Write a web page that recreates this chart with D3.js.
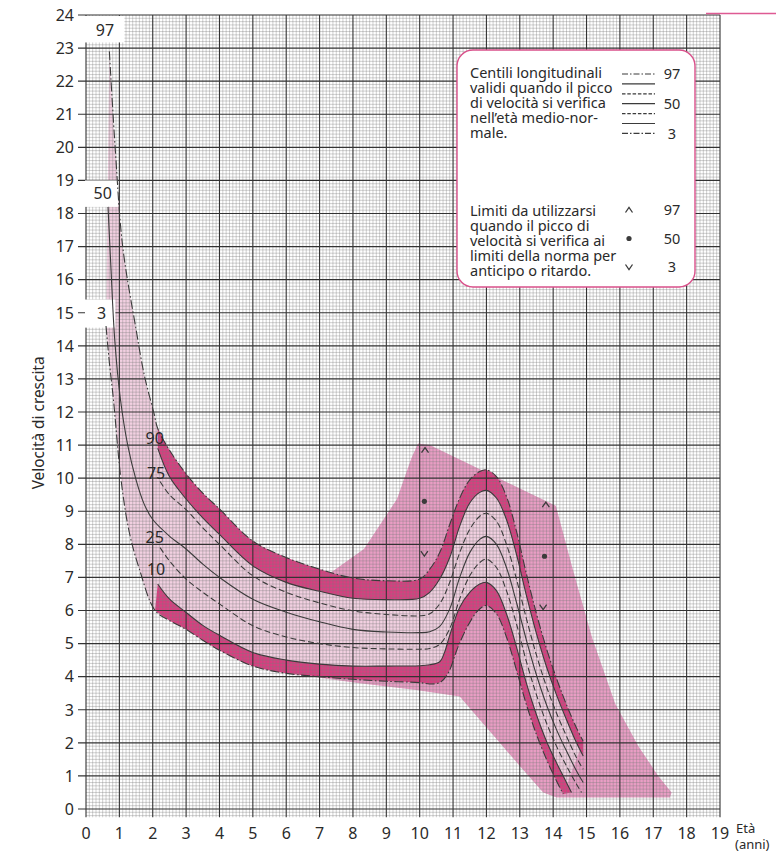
<!DOCTYPE html>
<html>
<head>
<meta charset="utf-8">
<script src="https://cdn.jsdelivr.net/npm/d3@7"></script>
<style>
  body { margin: 0; background: #fff; }
  svg { display: block; }
  text { font-family: "Noto Sans", "Open Sans", sans-serif; fill: #2a2a2a; }
</style>
</head>
<body>
<svg id="chart" width="776" height="852"></svg>
<script>
// ---- axis ticks ----
const ageTicks = d3.range(0, 20);          // 0 … 19 anni
const velocityTicks = d3.range(0, 25);     // 0 … 24 cm/anno

// ---- longitudinal centiles: [età, velocità] ----
const centile97 = [
  [0.70, 22.9], [0.88, 19.9], [1.10, 17.0], [1.50, 14.5], [1.75, 13.1], [2.04, 11.95],
  [2.15, 11.5], [2.5, 10.85], [3, 10.13], [3.5, 9.55], [4, 9.07], [5, 8.1], [6, 7.6],
  [7, 7.25], [8, 6.98], [9, 6.9], [10, 6.95], [10.3, 7.25], [10.6, 7.75], [10.9, 8.6],
  [11.2, 9.4], [11.5, 9.95], [11.8, 10.2], [12, 10.25], [12.3, 10.05], [12.6, 9.45],
  [12.9, 8.4], [13.2, 7.1], [13.5, 5.9], [13.8, 4.85], [14.1, 3.95], [14.4, 3.15],
  [14.7, 2.45], [14.9, 2.05]
];
const centile90 = [
  [2.15, 10.9], [2.5, 10.05], [3, 9.37], [3.5, 8.8], [4, 8.3], [5, 7.35], [6, 6.85],
  [7, 6.58], [8, 6.37], [9, 6.33], [10, 6.37], [10.3, 6.55], [10.6, 6.95], [10.9, 7.6],
  [11.2, 8.55], [11.5, 9.25], [11.8, 9.57], [12, 9.63], [12.3, 9.4], [12.6, 8.75],
  [12.9, 7.7], [13.2, 6.45], [13.5, 5.3], [13.8, 4.3], [14.1, 3.45], [14.4, 2.7],
  [14.7, 2.0], [14.9, 1.6]
];
const centile75 = [
  [2.22, 9.9], [2.5, 9.5], [3, 9.05], [3.5, 8.5], [4, 8.0], [5, 7.05], [6, 6.55],
  [7, 6.23], [8, 5.99], [9, 5.88], [10, 5.84], [10.3, 5.9], [10.6, 6.2], [10.9, 6.85],
  [11.2, 7.75], [11.5, 8.45], [11.8, 8.85], [12, 8.94], [12.3, 8.7], [12.6, 8.0],
  [12.9, 6.95], [13.2, 5.75], [13.5, 4.65], [13.8, 3.7], [14.1, 2.9], [14.4, 2.2],
  [14.7, 1.55], [14.9, 1.2]
];
const centile50 = [
  [0.66, 18.2], [0.75, 16.3], [0.86, 14.2], [1.03, 12.4], [1.25, 11.0], [1.5, 9.95],
  [1.75, 9.2], [2.0, 8.75], [2.5, 8.25], [3, 7.86], [3.5, 7.4], [4, 7.0], [5, 6.34],
  [6, 5.95], [7, 5.66], [8, 5.43], [9, 5.35], [10, 5.33], [10.3, 5.36], [10.6, 5.52],
  [10.9, 6.05], [11.2, 7.0], [11.5, 7.75], [11.8, 8.15], [12, 8.24], [12.3, 8.0],
  [12.6, 7.3], [12.9, 6.25], [13.2, 5.1], [13.5, 4.05], [13.8, 3.15], [14.1, 2.4],
  [14.4, 1.75], [14.7, 1.15], [14.9, 0.8]
];
const centile25 = [
  [2.22, 7.9], [2.5, 7.5], [3, 6.95], [3.5, 6.55], [4, 6.2], [5, 5.54], [6, 5.2],
  [7, 5.0], [8, 4.88], [9, 4.84], [10, 4.83], [10.3, 4.85], [10.6, 4.98], [10.9, 5.45],
  [11.2, 6.35], [11.5, 7.05], [11.8, 7.45], [12, 7.55], [12.3, 7.3], [12.6, 6.6],
  [12.9, 5.6], [13.2, 4.45], [13.5, 3.45], [13.8, 2.6], [14.1, 1.9], [14.4, 1.3],
  [14.7, 0.75], [14.85, 0.5]
];
const centile10 = [
  [2.15, 6.8], [2.5, 6.35], [3, 5.94], [3.5, 5.55], [4, 5.25], [5, 4.73], [6, 4.5],
  [7, 4.38], [8, 4.32], [9, 4.32], [10, 4.33], [10.3, 4.36], [10.6, 4.45], [10.75, 4.75],
  [10.9, 5.25], [11.2, 6.1], [11.5, 6.55], [11.8, 6.8], [12, 6.85], [12.3, 6.6],
  [12.6, 5.9], [12.9, 4.9], [13.2, 3.8], [13.5, 2.85], [13.8, 2.05], [14.1, 1.4],
  [14.35, 0.9], [14.55, 0.5]
];
const centile3 = [
  [0.60, 14.6], [0.70, 13.5], [0.82, 12.4], [1.05, 9.95], [1.3, 8.35], [1.6, 7.25],
  [2.07, 6.0], [2.5, 5.7], [3, 5.43], [3.5, 5.1], [4, 4.8], [5, 4.32], [6, 4.1],
  [7, 4.0], [8, 3.92], [9, 3.86], [10, 3.82], [10.3, 3.78], [10.6, 3.82], [10.85, 4.1],
  [11.15, 4.9], [11.45, 5.55], [11.75, 6.0], [12, 6.15], [12.3, 5.9], [12.6, 5.2],
  [12.9, 4.2], [13.2, 3.15], [13.5, 2.25], [13.8, 1.5], [14.05, 0.95], [14.3, 0.45]
];

// ---- range of the curves when the peak comes early or late ----
const peakLimitRegion = [
  [5.5, 4.2], [7, 3.97], [8.2, 3.8], [9.9, 3.6], [11.2, 3.4], [11.8, 2.7], [12.4, 2.0],
  [13.0, 1.3], [13.7, 0.5], [14.1, 0.35], [17.5, 0.35], [17.55, 0.5], [17.15, 1.0],
  [16.56, 1.89], [15.86, 3.18], [15.17, 5.17], [14.6, 7.2], [14.08, 9.17], [10.3, 11.0],
  [9.95, 11.05], [9.75, 10.6], [9.32, 9.37], [8.33, 7.86], [7.34, 7.15], [6.84, 6.95]
];
const earlyPeakLimits = [
  { centile: 97, age: 10.16, v: 10.85 },
  { centile: 50, age: 10.14, v: 9.3 },
  { centile: 3,  age: 10.14, v: 7.72 }
];
const latePeakLimits = [
  { centile: 97, age: 13.78, v: 9.2 },
  { centile: 50, age: 13.74, v: 7.64 },
  { centile: 3,  age: 13.7,  v: 6.1 }
];

// ---- centile names written on the chart ----
const infantLabels = [
  { text: "97", age: 0.57, v: 23.55 },
  { text: "50", age: 0.5,  v: 18.6 },
  { text: "3",  age: 0.47, v: 14.98 }
];
const childLabels = [
  { text: "90", age: 2.06, v: 11.2 },
  { text: "75", age: 2.1,  v: 10.15 },
  { text: "25", age: 2.06, v: 8.2 },
  { text: "10", age: 2.1,  v: 7.25 }
];

// ---- legend ----
const legendCentileText = ["Centili longitudinali", "validi quando il picco",
  "di velocità si verifica", "nell’età medio-nor-", "male."];
const legendLimitText = ["Limiti da utilizzarsi", "quando il picco di",
  "velocità si verifica ai", "limiti della norma per", "anticipo o ritardo."];
const legendLineStyles = ["dashdot", "solid", "dashed", "solid", "dashed", "solid", "dashdot"];
const legendLineLabels = ["97", "", "", "50", "", "", "3"];
const legendMarkers = [{ shape: "up", label: "97" }, { shape: "dot", label: "50" }, { shape: "down", label: "3" }];

// ---------------------------------------------------------------
const svg = d3.select("#chart");
const x = d3.scaleLinear().domain([0, 19]).range([86, 720]);
const y = d3.scaleLinear().domain([0, 24]).range([809, 15]);

const COL_LIGHT = "#f2d0e1";
const COL_MID = "#e99dc4";
const COL_DARK = "#d93e80";
const COL_LINE = "#3b3b3b";
const DASH = { solid: null, dashed: "6,3", dashdot: "9,2.5,1.6,2.5" };

const curve = d3.line().x(d => x(d[0])).y(d => y(d[1])).curve(d3.curveCatmullRom.alpha(0.5));
const straight = d3.line().x(d => x(d[0])).y(d => y(d[1]));

// area enclosed by an upper and a lower curve
function bandPath(upper, lower) {
  const a = curve(upper);
  const b = curve(lower.slice().reverse());
  return a + "L" + b.slice(1) + "Z";
}

// peak-timing region
svg.append("path").attr("d", straight(peakLimitRegion) + "Z").attr("fill", COL_MID);

// between 97th and 3rd
svg.append("path").attr("d", bandPath(centile97, centile3)).attr("fill", COL_LIGHT);

// dark bands 97–90 and 10–3
svg.append("path").attr("d", bandPath(centile97.filter(d => d[0] >= 2.15), centile90)).attr("fill", COL_DARK);
svg.append("path").attr("d", bandPath(centile10, centile3.filter(d => d[0] >= 2.07))).attr("fill", COL_DARK);

// ---- graph paper ----
const grid = svg.append("g");
const yBottom = y(-0.25), yTop = y(24);
d3.range(0, 191).filter(i => i % 10 !== 0).forEach(i => {
  const a = i / 10;
  grid.append("line").attr("x1", x(a)).attr("x2", x(a)).attr("y1", yBottom).attr("y2", yTop)
    .attr("stroke", "#7a7a7a").attr("stroke-width", 0.45).attr("stroke-opacity", 0.8);
});
d3.range(-2, 241).filter(i => i % 10 !== 0).forEach(i => {
  const v = i / 10;
  grid.append("line").attr("x1", x(0)).attr("x2", x(19)).attr("y1", y(v)).attr("y2", y(v))
    .attr("stroke", "#7a7a7a").attr("stroke-width", 0.45).attr("stroke-opacity", 0.8);
});
ageTicks.forEach(a => {
  grid.append("line").attr("x1", x(a)).attr("x2", x(a)).attr("y1", yBottom).attr("y2", yTop)
    .attr("stroke", "#333").attr("stroke-width", 1.1);
});
velocityTicks.forEach(v => {
  grid.append("line").attr("x1", x(0) - 8).attr("x2", x(19)).attr("y1", y(v)).attr("y2", y(v))
    .attr("stroke", "#333").attr("stroke-width", 1.1);
});

// white boxes behind the infant centile names
const boxes = [
  { a0: 0, a1: 1.15, v0: 23.17, v1: 23.97 },
  { a0: 0, a1: 0.96, v0: 18.2, v1: 19.0 },
  { a0: 0, a1: 0.88, v0: 14.55, v1: 15.4 }
];
svg.selectAll("rect.lbox").data(boxes).join("rect").attr("class", "lbox")
  .attr("x", d => x(d.a0) - 1).attr("y", d => y(d.v1))
  .attr("width", d => x(d.a1) - x(d.a0) + 1).attr("height", d => y(d.v0) - y(d.v1))
  .attr("fill", "#fff");

// ---- centile curves ----
const centileCurves = [
  { data: centile97, style: "dashdot" },
  { data: centile90, style: "solid" },
  { data: centile75, style: "dashed" },
  { data: centile50, style: "solid" },
  { data: centile25, style: "dashed" },
  { data: centile10, style: "solid" },
  { data: centile3, style: "dashdot" }
];
svg.append("g").selectAll("path").data(centileCurves).join("path")
  .attr("d", d => curve(d.data)).attr("fill", "none")
  .attr("stroke", COL_LINE).attr("stroke-width", 1.1)
  .attr("stroke-dasharray", d => DASH[d.style]);

// ---- limit markers ----
function marker(g, shape, cx, cy) {
  if (shape === "dot") {
    g.append("circle").attr("cx", cx).attr("cy", cy).attr("r", 2.6).attr("fill", COL_LINE);
  } else {
    const s = shape === "up" ? -1 : 1;
    g.append("path").attr("d", `M${cx - 3.5},${cy - 2.5 * s}L${cx},${cy + 2.5 * s}L${cx + 3.5},${cy - 2.5 * s}`)
      .attr("fill", "none").attr("stroke", COL_LINE).attr("stroke-width", 1.3);
  }
}
const markerG = svg.append("g");
const shapeFor = c => c === 97 ? "up" : c === 50 ? "dot" : "down";
earlyPeakLimits.concat(latePeakLimits).forEach(d => marker(markerG, shapeFor(d.centile), x(d.age), y(d.v)));

// ---- centile names ----
svg.append("g").selectAll("text").data(infantLabels.concat(childLabels)).join("text")
  .attr("x", d => x(d.age)).attr("y", d => y(d.v)).attr("dy", "0.36em")
  .attr("text-anchor", "middle").attr("font-size", 16).text(d => d.text);

// ---- axes labels ----
svg.append("g").selectAll("text").data(ageTicks).join("text")
  .attr("x", d => x(d)).attr("y", 839).attr("text-anchor", "middle")
  .attr("font-size", 16).text(d => d);
svg.append("g").selectAll("text").data(velocityTicks).join("text")
  .attr("x", 74).attr("y", d => y(d)).attr("dy", "0.36em").attr("text-anchor", "end")
  .attr("font-size", 16).text(d => d);
svg.append("text").attr("transform", `translate(44,${y(11.67)}) rotate(-90)`)
  .attr("text-anchor", "middle").attr("font-size", 15.4).text("Velocità di crescita");
svg.append("text").attr("x", 736).attr("y", 833).attr("font-size", 13).text("Età");
svg.append("text").attr("x", 735).attr("y", 849).attr("font-size", 13).text("(anni)");

// page rule top right
svg.append("line").attr("x1", 706).attr("x2", 776).attr("y1", 13.5).attr("y2", 13.5)
  .attr("stroke", "#de5a93").attr("stroke-width", 1.5);

// ---- legend ----
const lg = svg.append("g");
lg.append("rect").attr("x", 457).attr("y", 50).attr("width", 238).attr("height", 237)
  .attr("rx", 16).attr("fill", "#fff").attr("stroke", "#d9508a").attr("stroke-width", 1.4);
legendCentileText.forEach((t, i) => {
  lg.append("text").attr("x", 470).attr("y", 77.5 + i * 15).attr("font-size", 14.5).text(t);
});
legendLimitText.forEach((t, i) => {
  lg.append("text").attr("x", 470).attr("y", 215.5 + i * 15).attr("font-size", 14.5).text(t);
});
legendLineStyles.forEach((s, i) => {
  const ly = 74 + i * 9.9;
  lg.append("line").attr("x1", 622).attr("x2", 655).attr("y1", ly).attr("y2", ly)
    .attr("stroke", COL_LINE).attr("stroke-width", 1.2)
    .attr("stroke-dasharray", s === "dashed" ? "3.5,1.8" : s === "dashdot" ? "6,2,1.5,2" : null);
  if (legendLineLabels[i]) {
    lg.append("text").attr("x", 672).attr("y", ly).attr("dy", "0.36em").attr("text-anchor", "middle")
      .attr("font-size", 14.5).text(legendLineLabels[i]);
  }
});
legendMarkers.forEach((m, i) => {
  const my = 210 + i * 28.5;
  marker(lg, m.shape, 629, my);
  lg.append("text").attr("x", 672).attr("y", my).attr("dy", "0.36em").attr("text-anchor", "middle")
    .attr("font-size", 14.5).text(m.label);
});
</script>
</body>
</html>
